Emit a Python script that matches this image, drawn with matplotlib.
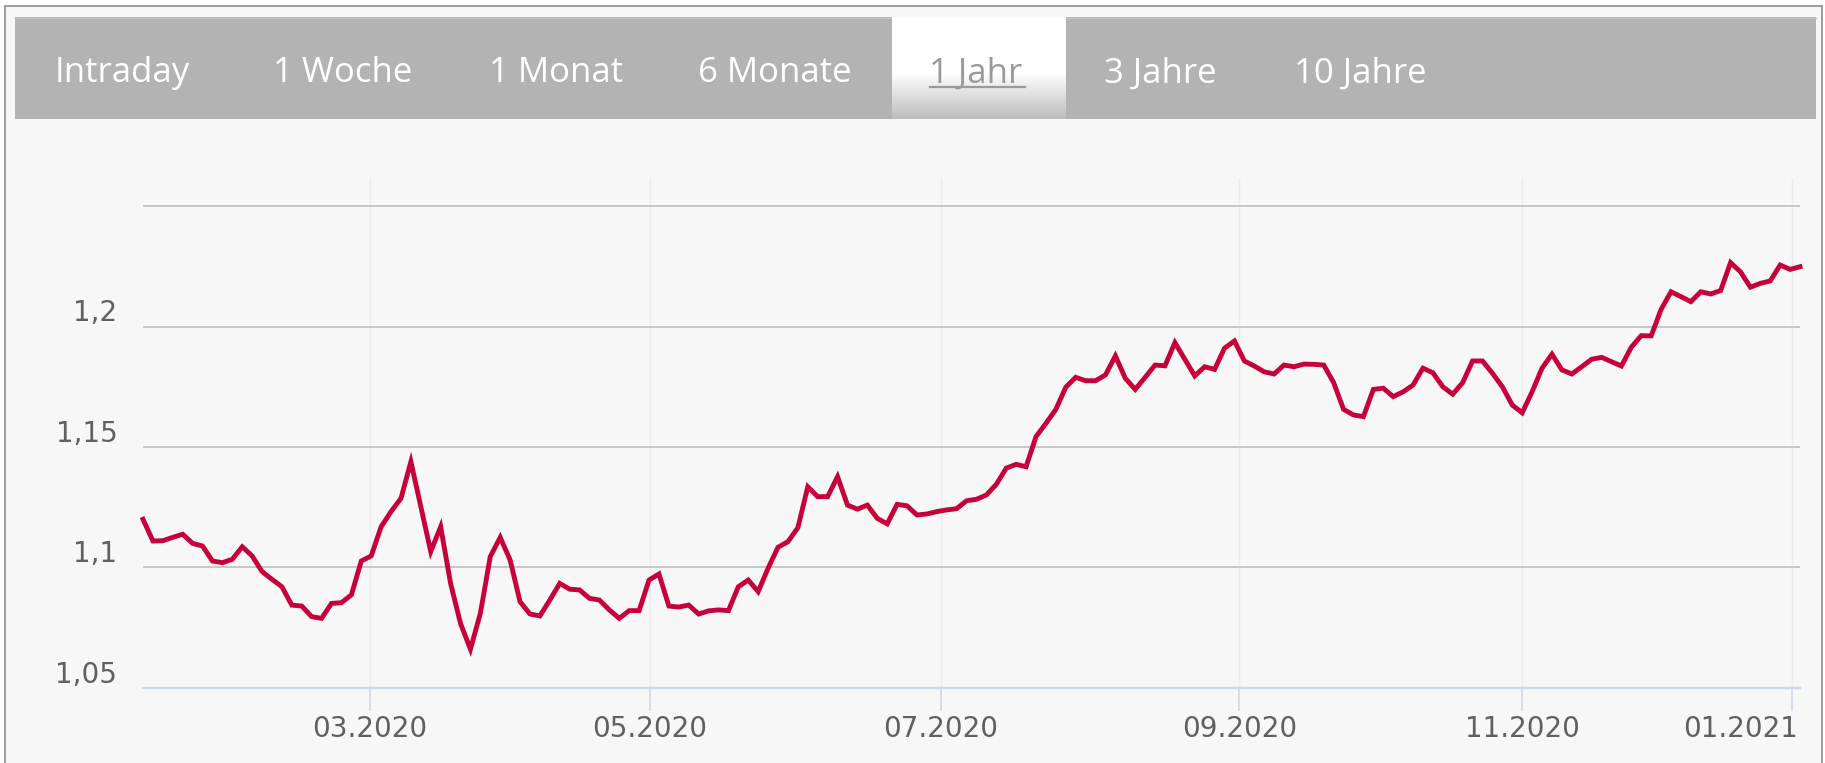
import numpy as np
import matplotlib
matplotlib.use("Agg")
import matplotlib.pyplot as plt
from matplotlib.patches import Rectangle
from matplotlib.transforms import ScaledTranslation

# ---------------- data ----------------
tabs = ["Intraday", "1 Woche", "1 Monat", "6 Monate", "1 Jahr", "3 Jahre", "10 Jahre"]
active_tab = "1 Jahr"

values = [
    1.1200, 1.1110, 1.1111, 1.1125, 1.1138, 1.1100, 1.1089, 1.1027, 1.1020, 1.1034,
    1.1086, 1.1048, 1.0983, 1.0951, 1.0920, 1.0844, 1.0840, 1.0796, 1.0789, 1.0851,
    1.0854, 1.0886, 1.1027, 1.1048, 1.1169, 1.1232, 1.1287, 1.1439, 1.1252, 1.1066,
    1.1169, 1.0934, 1.0768, 1.0661, 1.0810, 1.1045, 1.1125, 1.1031, 1.0858, 1.0807,
    1.0799, 1.0865, 1.0934, 1.0910, 1.0907, 1.0872, 1.0865, 1.0824, 1.0789, 1.0821,
    1.0821, 1.0948, 1.0973, 1.0840, 1.0836, 1.0844, 1.0807, 1.0820, 1.0824, 1.0821,
    1.0920, 1.0948, 1.0900, 1.0997, 1.1084, 1.1107, 1.1165, 1.1335, 1.1294, 1.1294,
    1.1377, 1.1259, 1.1242, 1.1259, 1.1204, 1.1181, 1.1262, 1.1256, 1.1218, 1.1222,
    1.1232, 1.1239, 1.1244, 1.1277, 1.1283, 1.1301, 1.1345, 1.1412, 1.1428, 1.1418,
    1.1543, 1.1598, 1.1656, 1.1748, 1.1789, 1.1775, 1.1775, 1.1799, 1.1878, 1.1785,
    1.1739, 1.1789, 1.1840, 1.1837, 1.1933, 1.1864, 1.1795, 1.1833, 1.1822, 1.1910,
    1.1940, 1.1857, 1.1836, 1.1812, 1.1803, 1.1840, 1.1833, 1.1844, 1.1843, 1.1840,
    1.1767, 1.1656, 1.1633, 1.1626, 1.1739, 1.1744, 1.1709, 1.1729, 1.1757, 1.1827,
    1.1808, 1.1750, 1.1719, 1.1767, 1.1857, 1.1857, 1.1806, 1.1750, 1.1674, 1.1642,
    1.1729, 1.1827, 1.1885, 1.1820, 1.1803, 1.1833, 1.1864, 1.1872, 1.1854, 1.1836,
    1.1914, 1.1962, 1.1961, 1.2071, 1.2144, 1.2124, 1.2103, 1.2144, 1.2135, 1.2149,
    1.2265, 1.2227, 1.2163, 1.2179, 1.2189, 1.2255, 1.2237, 1.2248,
]

month_labels = ["03.2020", "05.2020", "07.2020", "09.2020", "11.2020", "01.2021"]
month_positions = [22.85, 51.1, 80.4, 110.5, 139.0, 166.2]   # point index of month start

y_ticks = [1.05, 1.10, 1.15, 1.20, 1.25]
y_tick_labels = ["1,05", "1,1", "1,15", "1,2", ""]

# ---------------- figure ----------------
W, H = 1825, 763
DPI = 100
fig = plt.figure(figsize=(W / DPI, H / DPI), dpi=DPI, facecolor="white")

# background / frame axes in pixel coordinates
bg = fig.add_axes([0, 0, 1, 1], zorder=0)
bg.set_xlim(0, W)
bg.set_ylim(H, 0)
bg.axis("off")

bg.add_patch(Rectangle((5, 6), 1817, 800, facecolor="#f7f7f7",
                       edgecolor="#8c8c8c", lw=1.2))
# tab bar
bg.add_patch(Rectangle((15, 17), 1801, 102, facecolor="#b3b3b3", edgecolor="none"))
bg.plot([15, 1816], [18, 18], color="#c4c4c4", lw=1)
# active tab with gradient
grad = np.ones((100, 1, 3))
t = np.linspace(0, 1, 100)
shade = np.where(t < 0.55, 1.0, 1.0 - (t - 0.55) / 0.45 * (1 - 0.74))
grad[:, 0, 0] = shade
grad[:, 0, 1] = shade
grad[:, 0, 2] = shade
bg.imshow(grad, extent=(892, 1066, 119, 17), aspect="auto", zorder=2,
          interpolation="bilinear")

tab_left_px = [55, 273, 489, 698, 929, 1104, 1294]
for name, xl in zip(tabs, tab_left_px):
    is_active = name == active_tab
    bg.text(xl, 82.5, name, ha="left", va="baseline", fontsize=25,
            family="Open Sans", color="#9a9a9a" if is_active else "white", zorder=3)
    if is_active:
        bg.plot([xl + 1, xl + 96], [87, 87], color="#9a9a9a", lw=1.6, zorder=3)

# ---------------- chart axes ----------------
left_px, right_px, top_px, bottom_px = 143, 1800, 178, 688
ax = fig.add_axes([left_px / W, 1 - bottom_px / H,
                   (right_px - left_px) / W, (bottom_px - top_px) / H], zorder=1)
ax.patch.set_alpha(0)

x = np.arange(len(values))
ax.plot(x, values, color="#c8003a", lw=3.5, solid_joinstyle="miter", zorder=4,
        clip_on=False)

ax.set_xlim(0, len(values) - 1)
ax.set_ylim(1.05, 1.05 + (bottom_px - top_px) / 120.5 * 0.05)

ax.set_yticks(y_ticks)
ax.set_yticklabels(y_tick_labels)
ax.set_xticks(month_positions)
ax.set_xticklabels(month_labels)

for s in ["left", "right", "top"]:
    ax.spines[s].set_visible(False)
ax.spines["bottom"].set_color("#ccd6eb")
ax.spines["bottom"].set_linewidth(1.6)
ax.spines["bottom"].set_zorder(5)

ax.yaxis.grid(True, color="#c4c4c4", lw=1.3)
ax.xaxis.grid(True, color="#ececec", lw=1.0)
ax.set_axisbelow(True)

ax.tick_params(axis="y", length=0, pad=18.5, labelsize=20, labelcolor="#606060")
ax.tick_params(axis="x", length=16.5, width=1.1, color="#ccd6eb", direction="out",
               pad=3, labelsize=20, labelcolor="#606060")
for lab in ax.get_yticklabels():
    lab.set_family("DejaVu Sans")
    lab.set_transform(lab.get_transform() + ScaledTranslation(0, 0.16, fig.dpi_scale_trans))
for lab in ax.get_xticklabels():
    lab.set_family("DejaVu Sans")
last = ax.get_xticklabels()[-1]
last.set_ha("right")
last.set_transform(last.get_transform() + ScaledTranslation(0.06, 0, fig.dpi_scale_trans))

fig.savefig("out.png", dpi=DPI, facecolor="white")
